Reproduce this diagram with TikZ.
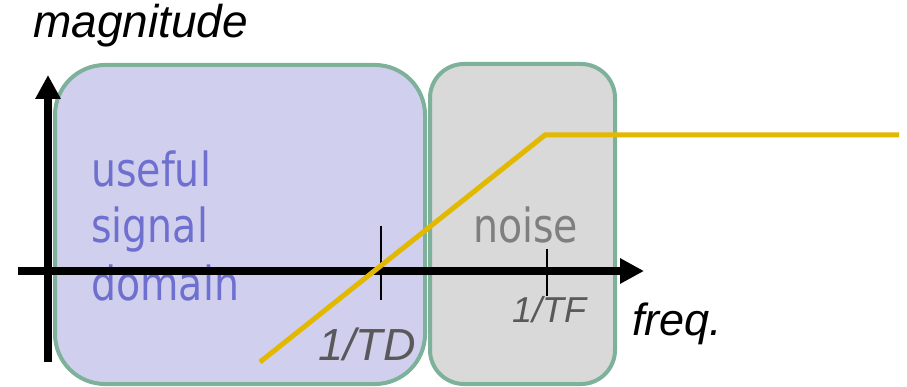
\documentclass[tikz,border=0pt]{standalone}
\usepackage{fontspec}
\setmainfont{Liberation Sans}
\newfontfamily\regionfont[FakeStretch=0.84]{DejaVu Sans}
\usetikzlibrary{arrows.meta}
\definecolor{lavender}{HTML}{D0D0EE}
\definecolor{sage}{HTML}{7DB19A}
\definecolor{silver}{HTML}{D9D9D9}
\definecolor{mustard}{HTML}{E2B800}
\definecolor{periwinkle}{HTML}{6F6FCF}
\definecolor{ash}{HTML}{7F7F7F}
\definecolor{slate}{HTML}{595959}
\tikzset{
    x=1pt,y=-1pt,
    region/.style={draw=sage,line width=4pt},
    axis/.style={line width=8pt,-{Triangle[length=24pt,width=24pt]}},
    mark line/.style={line width=2pt},
    response/.style={mustard,line width=5pt},
    lbl/.style={inner sep=0pt,anchor=base west,font=\fontsize{45}{56}\selectfont\itshape},
    domlbl/.style={inner sep=0pt,anchor=base west,font=\fontsize{47}{56}\selectfont\regionfont}
}

\begin{document}
\begin{tikzpicture}
      \useasboundingbox (0,0) rectangle (907,387);
      \draw[region,fill=lavender,rounded corners=50pt] (55,65) rectangle (425,384);
      \draw[region,fill=silver,rounded corners=34pt] (430,64) rectangle (615,384);

      \node[lbl,font=\fontsize{46}{56}\selectfont\itshape] (magnitude) at (33,38) {magnitude};
      \node[domlbl,periwinkle] (useful) at (91,187) {useful};
      \node[domlbl,periwinkle] (signal) at (91,243) {signal};
      \node[domlbl,periwinkle] (domain) at (91,300) {domain};
      \node[domlbl,ash] (noise) at (473,243) {noise};
      \node[lbl,slate] (TD) at (318,360) {1/TD};
      \node[lbl,slate,font=\fontsize{36}{44}\selectfont\itshape] (TF) at (512,322) {1/TF};
      \node[lbl] (freq) at (632,335) {freq.};

      \coordinate (ybot) at (48,362);
      \coordinate (ytop) at (48,75);
      \coordinate (xleft) at (18,271);
      \coordinate (xright) at (644,271);
      \draw[axis] (ybot) -- (ytop);
      \draw[axis] (xleft) -- (xright);

      \coordinate (TDtop) at (381,226);
      \coordinate (TDbot) at (381,300);
      \coordinate (TFtop) at (547,249);
      \coordinate (TFbot) at (547,296);
      \draw[mark line] (TDtop) -- (TDbot);
      \draw[mark line] (TFtop) -- (TFbot);

      \coordinate (start) at (260,362);
      \coordinate (knee) at (545,135);
      \coordinate (flat) at (899,135);
      \draw[response] (start) -- (knee) -- (flat);
    \end{tikzpicture}
\end{document}
